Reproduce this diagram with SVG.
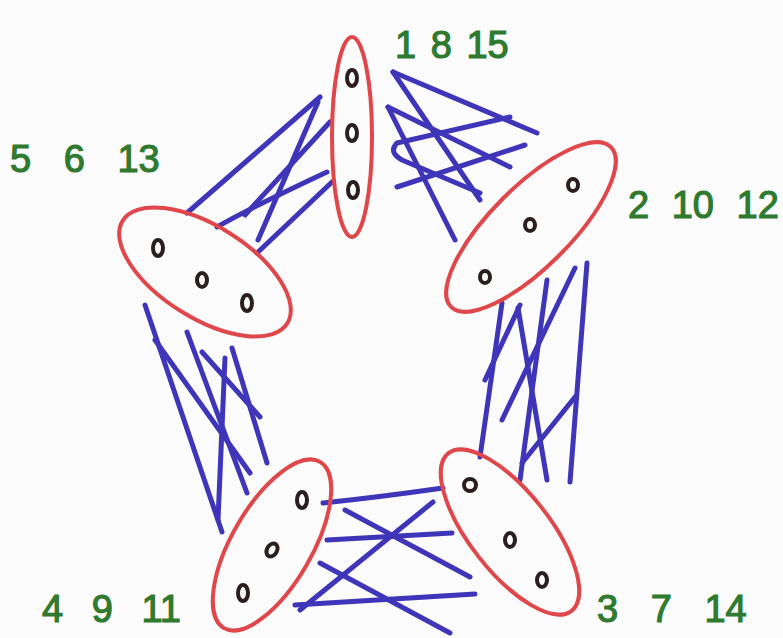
<svg xmlns="http://www.w3.org/2000/svg" width="783" height="638" viewBox="0 0 783 638">
<style>
.bg{fill:#fbfbfb}
.set{fill:none;stroke:#e0474a;stroke-width:4}
.pt{fill:none;stroke:#2a1e1e;stroke-width:4}
.lbl{font-family:"Liberation Sans",Arial,sans-serif;font-size:38px;fill:#2f7a2f;stroke:#2f7a2f;stroke-width:1.2}
.e{fill:none;stroke:#3e35b8;stroke-width:5;stroke-linecap:round;stroke-linejoin:round}
</style>
<rect class="bg" x="0" y="0" width="783" height="638"/>
<g id="connectors">
<!-- left to top -->
<path class="e" d="M187 213 L320 97"/>
<path class="e" d="M217 227 Q250 208 327 172"/>
<path class="e" d="M258 240 L318 102"/>
<path class="e" d="M257 253 L332 182"/>
<path class="e" d="M330 122 L245 215"/>
<!-- top to right -->
<path class="e" d="M393 72 L537 133"/>
<path class="e" d="M393 72 L480 200"/>
<path class="e" d="M388 107 L510 167"/>
<path class="e" d="M388 107 L455 240"/>
<path class="e" d="M510 117 L397 143 Q388 152 402 160 L480 193"/>
<path class="e" d="M397 187 L525 145"/>
<!-- right to bottom-right -->
<path class="e" d="M502 303 L480 457"/>
<path class="e" d="M485 380 L520 305"/>
<path class="e" d="M518 308 L547 480"/>
<path class="e" d="M547 280 L520 480"/>
<path class="e" d="M575 268 L502 420"/>
<path class="e" d="M587 263 L570 482"/>
<path class="e" d="M575 397 L522 463"/>
<!-- bottom-right to bottom-left -->
<path class="e" d="M323 503 Q380 497 443 488"/>
<path class="e" d="M345 510 L470 577"/>
<path class="e" d="M327 540 L452 533"/>
<path class="e" d="M433 502 L300 610"/>
<path class="e" d="M320 563 L450 633"/>
<path class="e" d="M295 605 L475 594"/>
<!-- left to bottom-left -->
<path class="e" d="M145 305 L222 532"/>
<path class="e" d="M155 340 L250 473"/>
<path class="e" d="M187 332 L247 493"/>
<path class="e" d="M202 352 L260 417"/>
<path class="e" d="M225 358 L218 520"/>
<path class="e" d="M232 348 L267 463"/>
</g>
<g id="n-top">
<ellipse class="set" cx="352" cy="137" rx="20" ry="100"/>
<ellipse class="pt" cx="352" cy="78" rx="5" ry="8"/>
<ellipse class="pt" cx="352" cy="133" rx="5" ry="8"/>
<ellipse class="pt" cx="353" cy="190" rx="5" ry="8"/>
<text class="lbl" x="395" y="58" word-spacing="4">1 8 15</text>
</g>
<g id="n-left">
<ellipse class="set" cx="205" cy="272" rx="97" ry="46" transform="rotate(32 205 272)"/>
<ellipse class="pt" cx="158" cy="248" rx="5" ry="8"/>
<ellipse class="pt" cx="202" cy="280" rx="5" ry="7"/>
<ellipse class="pt" cx="247" cy="303" rx="5" ry="8"/>
<text class="lbl" x="10" y="172" word-spacing="22">5 6 13</text>
</g>
<g id="n-right">
<ellipse class="set" cx="531" cy="227" rx="113" ry="40" transform="rotate(-45 531 227)"/>
<ellipse class="pt" cx="573" cy="185" rx="5" ry="6"/>
<ellipse class="pt" cx="530" cy="225" rx="5" ry="6"/>
<ellipse class="pt" cx="485" cy="277" rx="5" ry="6"/>
<text class="lbl" x="628" y="218" word-spacing="12">2 10 12</text>
</g>
<g id="n-bottom-left">
<ellipse class="set" cx="272" cy="545" rx="96" ry="40" transform="rotate(-60 272 545)"/>
<ellipse class="pt" cx="302" cy="500" rx="5" ry="8"/>
<ellipse class="pt" cx="272" cy="550" rx="5" ry="7" transform="rotate(30 272 550)"/>
<ellipse class="pt" cx="243" cy="593" rx="5" ry="8"/>
<text class="lbl" x="42" y="622" word-spacing="18">4 9 11</text>
</g>
<g id="n-bottom-right">
<ellipse class="set" cx="510" cy="532" rx="100" ry="40" transform="rotate(52 510 532)"/>
<ellipse class="pt" cx="470" cy="485" rx="6" ry="6"/>
<ellipse class="pt" cx="510" cy="540" rx="5" ry="7"/>
<ellipse class="pt" cx="542" cy="580" rx="5" ry="7"/>
<text class="lbl" x="597" y="622" word-spacing="22">3 7 14</text>
</g>
</svg>
